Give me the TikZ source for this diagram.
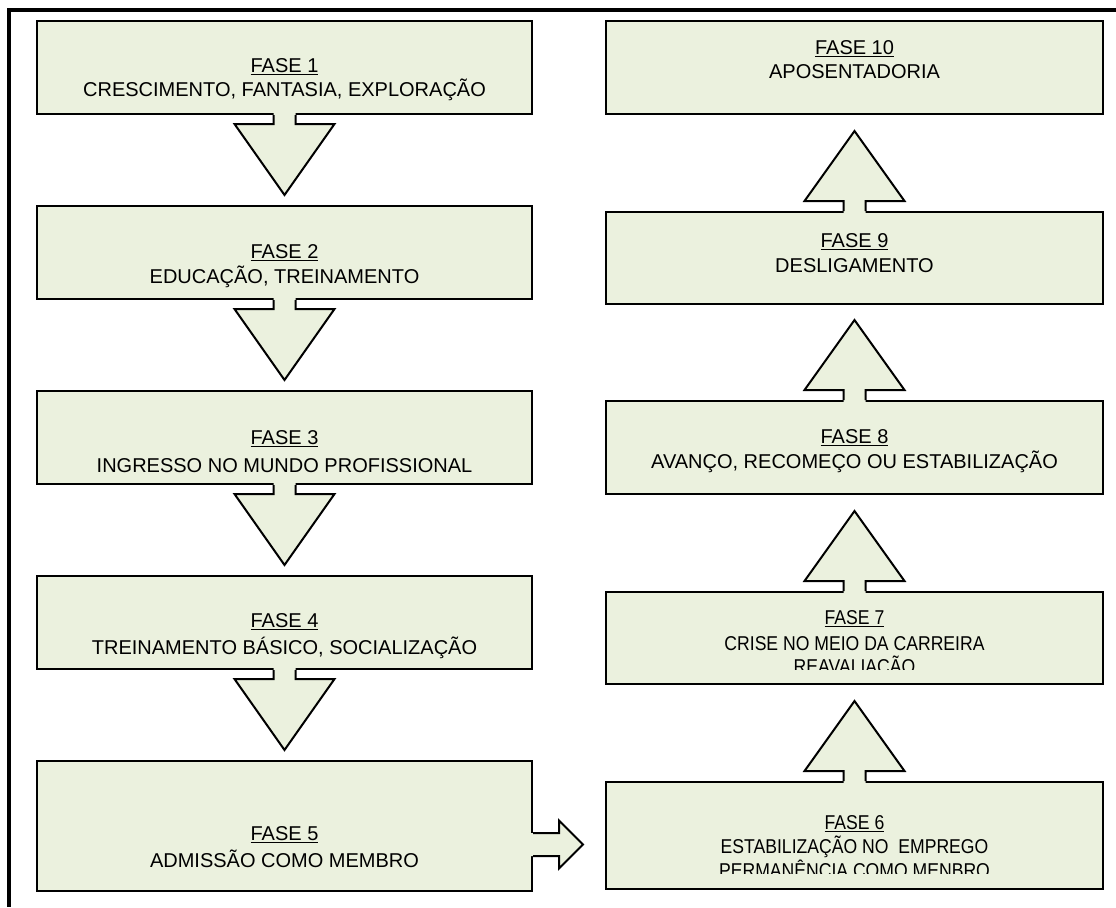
\documentclass[tikz,border=0pt]{standalone}
\usepackage{fontspec}
\usepackage{graphicx}
\setmainfont{Liberation Sans}
\usetikzlibrary{fit,calc}
\definecolor{boxgreen}{RGB}{235,241,222}
\newcommand\narrowtxt[1]{\scalebox{0.88}[1]{#1}}
\newcommand\phasebox[5]{%
  \path (#2,#3) coordinate (#1-nw) (#4,#5) coordinate (#1-se);
  \node[phase, fit=(#1-nw)(#1-se)] (#1) {};}
\newcommand\arrDown[1]{%
  \begin{scope}[shift={(#1.south)}]
    \fill[boxgreen] (-11,-3) -- (-11,9) -- (-50,9) -- (0,80) -- (50,9) -- (11,9) -- (11,-3) -- cycle;
    \draw[arrline] (-11,0) -- (-11,9) -- (-50,9) -- (0,80) -- (50,9) -- (11,9) -- (11,0);
  \end{scope}}
\newcommand\arrUp[1]{%
  \begin{scope}[shift={(#1.north)}]
    \fill[boxgreen] (-11,3) -- (-11,-10) -- (-50,-10) -- (0,-80) -- (50,-10) -- (11,-10) -- (11,3) -- cycle;
    \draw[arrline] (-11,0) -- (-11,-10) -- (-50,-10) -- (0,-80) -- (50,-10) -- (11,-10) -- (11,0);
  \end{scope}}
\begin{document}
\begin{tikzpicture}[x=0.75pt,y=-0.75pt,
  phase/.style={draw=black, fill=boxgreen, line width=1.5pt, inner sep=0pt},
  lbl/.style={anchor=base, inner sep=0pt, font=\fontsize{15}{18}\selectfont},
  arrline/.style={draw=black, line width=1.5pt, line join=miter},
  frame/.style={draw=black, line width=3.4pt}]
\useasboundingbox (0,0) rectangle (1116,907);
% outer frame
\coordinate (fr-a) at (7,10);
\coordinate (fr-b) at (1116,10);
\coordinate (fr-c) at (9.2,8);
\coordinate (fr-d) at (9.2,907);
\draw[frame] (fr-a) -- (fr-b);
\draw[frame] (fr-c) -- (fr-d);
% left column
\phasebox{b1}{37}{21}{532}{114}
\phasebox{b2}{37}{206}{532}{299}
\phasebox{b3}{37}{391}{532}{484}
\phasebox{b4}{37}{576}{532}{669}
\phasebox{b5}{37}{761}{532}{891}
% right column
\phasebox{b10}{606}{21}{1103}{114}
\phasebox{b9}{606}{212}{1103}{304}
\phasebox{b8}{606}{401}{1103}{494}
\phasebox{b7}{606}{592}{1103}{684}
\phasebox{b6}{606}{782}{1103}{889}
% arrows
\arrDown{b1}
\arrDown{b2}
\arrDown{b3}
\arrDown{b4}
\arrUp{b6}
\arrUp{b7}
\arrUp{b8}
\arrUp{b9}
\begin{scope}[shift={($(b5.east)+(0,18.5)$)}]
  \fill[boxgreen] (-3,-11.5) -- (26,-11.5) -- (26,-24) -- (50,0) -- (26,24) -- (26,11.5) -- (-3,11.5) -- cycle;
  \draw[arrline] (0,-11.5) -- (26,-11.5) -- (26,-24) -- (50,0) -- (26,24) -- (26,11.5) -- (0,11.5);
\end{scope}
% texts left
\node[lbl] (t1a) at (284.5,72) {\underline{FASE 1}};
\node[lbl] (t1b) at (284.5,96) {CRESCIMENTO, FANTASIA, EXPLORAÇÃO};
\node[lbl] (t2a) at (284.5,258) {\underline{FASE 2}};
\node[lbl] (t2b) at (284.5,283) {EDUCAÇÃO, TREINAMENTO};
\node[lbl] (t3a) at (284.5,444) {\underline{FASE 3}};
\node[lbl] (t3b) at (284.5,472) {INGRESSO NO MUNDO PROFISSIONAL};
\node[lbl] (t4a) at (284.5,627) {\underline{FASE 4}};
\node[lbl] (t4b) at (284.5,654) {TREINAMENTO BÁSICO, SOCIALIZAÇÃO};
\node[lbl] (t5a) at (284.5,840) {\underline{FASE 5}};
\node[lbl] (t5b) at (284.5,867) {ADMISSÃO COMO MEMBRO};
% texts right
\node[lbl] (t10a) at (854.5,54) {\underline{FASE 10}};
\node[lbl] (t10b) at (854.5,78) {APOSENTADORIA};
\node[lbl] (t9a) at (854.5,247) {\underline{FASE 9}};
\node[lbl] (t9b) at (854.5,272) {DESLIGAMENTO};
\node[lbl] (t8a) at (854.5,443) {\underline{FASE 8}};
\node[lbl] (t8b) at (854.5,468) {AVANÇO, RECOMEÇO OU ESTABILIZAÇÃO};
\node[lbl] (t7a) at (854.5,624) {\narrowtxt{\underline{FASE 7}}};
\node[lbl] (t7b) at (854.5,650) {\narrowtxt{CRISE NO MEIO DA CARREIRA}};
\begin{scope}
  \clip (606,655) rectangle (1103,669);
  \node[lbl] (t7c) at (854.5,673) {\narrowtxt{REAVALIAÇÃO}};
\end{scope}
\node[lbl] (t6a) at (854.5,829) {\narrowtxt{\underline{FASE 6}}};
\node[lbl] (t6b) at (854.5,853) {\narrowtxt{ESTABILIZAÇÃO NO\ \ EMPREGO}};
\begin{scope}
  \clip (606,858) rectangle (1103,873);
  \node[lbl] (t6c) at (854.5,877) {\narrowtxt{PERMANÊNCIA COMO MENBRO}};
\end{scope}
\end{tikzpicture}
\end{document}
